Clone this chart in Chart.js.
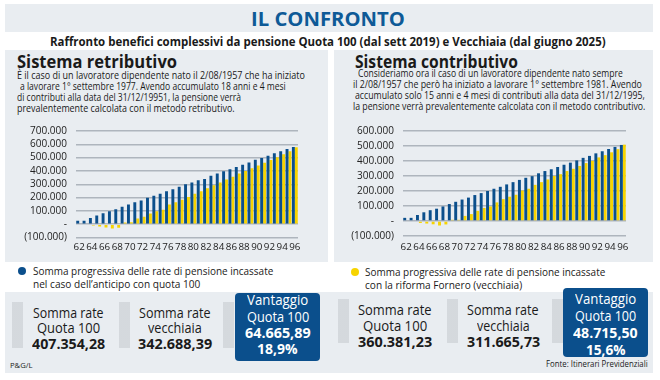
<!DOCTYPE html>
<html><head><meta charset="utf-8">
<script src="https://cdn.jsdelivr.net/npm/chart.js@4.4.0/dist/chart.umd.min.js"></script>
<style>
html,body{margin:0;padding:0;background:#fff;}
#root{position:relative;width:660px;height:380px;overflow:hidden;font-family:'Open Sans',sans-serif;color:#1a1a1a;}
.box{position:absolute;}
.grey{background:#e9edf1;}
.t{position:absolute;white-space:nowrap;line-height:1;transform-origin:0 50%;}
.b{font-weight:700;}
.w{color:#fff;}
.dots{position:absolute;background-color:#e4e7ea;background-image:radial-gradient(circle,#c3c8cd 0.6px,transparent 0.8px);background-size:2px 2px;}
.dot{position:absolute;width:8px;height:8px;border-radius:50%;}
.vbox{position:absolute;background:#0b4f8c;border-radius:4px;}
canvas{position:absolute;}
</style></head><body><div id="root">
<div class="box grey" style="left:5px;top:4px;width:648px;height:28px"></div>
<div class="box grey" style="left:5px;top:50px;width:323px;height:212px"></div>
<div class="box grey" style="left:334px;top:50px;width:319px;height:212px"></div>
<div class="box grey" style="left:5px;top:292px;width:648px;height:81px"></div>

<div class="t b" style="font-size:20px;color:#0e5a97" data-cx="328" data-y="18.5" data-w="154">IL CONFRONTO</div>
<div class="t b" style="font-size:12px" data-cx="327.5" data-y="42" data-w="556">Raffronto benefici complessivi da pensione Quota 100 (dal sett 2019) e Vecchiaia (dal giugno 2025)</div>

<div class="t b" style="font-size:18.5px" data-x="17" data-y="61" data-w="160">Sistema retributivo</div>
<div class="t b" style="font-size:18.5px" data-x="355" data-y="61" data-w="163">Sistema contributivo</div>

<div class="t" style="font-size:10.5px" data-x="17" data-y="75" data-w="288">È il caso di un lavoratore dipendente nato il 2/08/1957 che ha iniziato</div>
<div class="t" style="font-size:10.5px" data-x="20" data-y="86" data-w="266">a lavorare 1° settembre 1977. Avendo accumulato 18 anni e 4 mesi</div>
<div class="t" style="font-size:10.5px" data-x="17" data-y="97.5" data-w="224">di contributi alla data del 31/12/19951, la pensione verrà</div>
<div class="t" style="font-size:10.5px" data-x="17" data-y="108.5" data-w="218">prevalentemente calcolata con il metodo retributivo.</div>

<div class="t" style="font-size:10.5px" data-x="358" data-y="73" data-w="265">Consideriamo ora il caso di un lavoratore dipendente nato sempre</div>
<div class="t" style="font-size:10.5px" data-x="353" data-y="84" data-w="289">il 2/08/1957 che però ha iniziato a lavorare 1° settembre 1981. Avendo</div>
<div class="t" style="font-size:10.5px" data-x="355" data-y="95" data-w="290">accumulato solo 15 anni e 4 mesi di contributi alla data del 31/12/1995,</div>
<div class="t" style="font-size:10.5px" data-x="353" data-y="106" data-w="292">la pensione verrà prevalentemente calcolata con il metodo contributivo.</div>

<canvas id="c1" width="305" height="140" style="left:5px;top:116px;width:305px;height:140px"></canvas>
<canvas id="c2" width="305" height="140" style="left:335px;top:116px;width:305px;height:140px"></canvas>

<div class="dot" style="left:18px;top:267px;background:#0b4f8c"></div>
<div class="t" style="font-size:11.5px" data-x="33" data-y="271" data-w="240">Somma progressiva delle rate di pensione incassate</div>
<div class="t" style="font-size:11.5px" data-x="33" data-y="284" data-w="167">nel caso dell’anticipo con quota 100</div>
<div class="dot" style="left:351px;top:268px;background:#f7d400"></div>
<div class="t" style="font-size:11.5px" data-x="365" data-y="272" data-w="240">Somma progressiva delle rate di pensione incassate</div>
<div class="t" style="font-size:11.5px" data-x="365" data-y="285" data-w="157">con la riforma Fornero (vecchiaia)</div>

<div class="dots" style="left:12px;top:302px;width:11px;height:46px"></div>
<div class="dots" style="left:119px;top:302px;width:11px;height:46px"></div>
<div class="dots" style="left:223px;top:302px;width:11px;height:46px"></div>
<div class="dots" style="left:338px;top:299px;width:11px;height:44px"></div>
<div class="dots" style="left:447px;top:299px;width:11px;height:44px"></div>
<div class="dots" style="left:552px;top:299px;width:11px;height:44px"></div>

<div class="t" style="font-size:15px" data-cx="68" data-y="312" data-w="71">Somma rate</div>
<div class="t" style="font-size:15px" data-cx="68" data-y="327" data-w="63">Quota 100</div>
<div class="t b" style="font-size:15px" data-cx="68" data-y="343" data-w="73">407.354,28</div>
<div class="t" style="font-size:15px" data-cx="175" data-y="312" data-w="72">Somma rate</div>
<div class="t" style="font-size:15px" data-cx="175" data-y="327" data-w="54">vecchiaia</div>
<div class="t b" style="font-size:15px" data-cx="175" data-y="343" data-w="74">342.688,39</div>
<div class="vbox" style="left:235px;top:293px;width:85px;height:68px"></div>
<div class="t w" style="font-size:15px" data-cx="277.5" data-y="299" data-w="61">Vantaggio</div>
<div class="t w" style="font-size:15px" data-cx="277.5" data-y="316" data-w="62">Quota 100</div>
<div class="t w b" style="font-size:15px" data-cx="277.5" data-y="332" data-w="66">64.665,89</div>
<div class="t w b" style="font-size:15px" data-cx="277.5" data-y="348" data-w="41">18,9%</div>

<div class="t" style="font-size:15px" data-cx="395" data-y="309" data-w="74">Somma rate</div>
<div class="t" style="font-size:15px" data-cx="395" data-y="325" data-w="64">Quota 100</div>
<div class="t b" style="font-size:15px" data-cx="395" data-y="341" data-w="74">360.381,23</div>
<div class="t" style="font-size:15px" data-cx="503" data-y="309" data-w="72">Somma rate</div>
<div class="t" style="font-size:15px" data-cx="503" data-y="325" data-w="53">vecchiaia</div>
<div class="t b" style="font-size:15px" data-cx="503" data-y="341" data-w="73">311.665,73</div>
<div class="vbox" style="left:563px;top:288px;width:85px;height:69px"></div>
<div class="t w" style="font-size:15px" data-cx="605.5" data-y="298" data-w="61">Vantaggio</div>
<div class="t w" style="font-size:15px" data-cx="605.5" data-y="315" data-w="61">Quota 100</div>
<div class="t w b" style="font-size:15px" data-cx="605.5" data-y="332" data-w="65">48.715,50</div>
<div class="t w b" style="font-size:15px" data-cx="605.5" data-y="349" data-w="40">15,6%</div>

<div class="t" style="font-size:8px" data-x="10" data-y="365" data-w="23">P&amp;G/L</div>
<div class="t" style="font-size:8.5px" data-rx="648" data-y="364" data-w="102">Fonte: Itinerari Previdenziali</div>
</div>
<script>
// ---- data ----
const years = ['62','63','64','65','66','67','68','69','70','71','72','73','74','75','76','77','78','79','80','81','82','83','84','85','86','87','88','89','90','91','92','93','94','95','96'];
const quota100Retributivo = [25000,25000,46000,66000,82000,97000,113000,131000,147000,164000,178000,199000,214000,229000,247000,262000,282000,300000,314000,330000,339000,364000,381000,398000,412000,429000,446000,463000,484000,497000,514000,532000,548000,564000,579000];
const vecchiaiaRetributivo = [0,0,-10000,-18000,-25000,-33000,-27000,12000,15000,42000,55000,80000,97000,108000,147000,164000,184000,205000,228000,248000,270000,292000,314000,336000,357000,380000,400000,420000,440000,462000,482000,503000,525000,548000,578000];
const quota100Contributivo = [21000,21000,40000,58000,72000,82000,97000,113000,128000,143000,156000,173000,186000,200000,215000,228000,244000,259000,274000,288000,299000,318000,333000,345000,360000,375000,389000,404000,421000,434000,451000,465000,480000,494000,507000];
const vecchiaiaContributivo = [0,0,-13000,-17000,-22000,-30000,-23000,8000,8000,34000,46000,68000,87000,97000,124000,146000,162000,175000,203000,215000,241000,259000,277000,300000,312000,333000,348000,367000,386000,401000,424000,439000,458000,479000,509000];
const yMin = -100000;
const yMaxRetributivo = 700000;
const yMaxContributivo = 600000;
const yStep = 100000;

const BLUE = '#0b4f8c', YELLOW = '#f7d400';

function fmt(v){
  if (v === 0) return '-';
  const s = Math.abs(v).toString().replace(/\B(?=(\d{3})+(?!\d))/g, '.');
  return v < 0 ? '(' + s + ')' : s;
}

function makeChart(id, blue, yellow, max, yW, padTop, padRight, xH, xPad){
  const font = {family:'Open Sans', size:10};
  return new Chart(document.getElementById(id), {
    type:'bar',
    data:{labels:years, datasets:[
      {data:blue, backgroundColor:BLUE, categoryPercentage:0.92, barPercentage:1.0},
      {data:yellow, backgroundColor:YELLOW, categoryPercentage:0.92, barPercentage:1.0}
    ]},
    options:{
      responsive:false, animation:false, devicePixelRatio:1,
      layout:{padding:{top:padTop, right:padRight, left:0, bottom:0}},
      plugins:{legend:{display:false}, tooltip:{enabled:false}},
      scales:{
        x:{
          grid:{display:false, drawTicks:false}, border:{display:false},
          ticks:{autoSkip:false, maxRotation:0, minRotation:0, padding:xPad, font:{family:'Open Sans', size:9.8}, color:'#222',
            callback:(v,i)=> i % 2 === 0 ? years[i] : ''},
          afterFit:s=>{s.height = xH; s.paddingLeft = 0; s.paddingRight = 0;}
        },
        y:{
          min:yMin, max:max,
          ticks:{stepSize:yStep, autoSkip:false, padding:9, font:font, color:'#222', callback:v=>fmt(v)},
          grid:{color:'#aeb5bd', lineWidth:1.5, drawTicks:false}, border:{display:false},
          afterFit:s=>{s.width = yW;}
        }
      }
    }
  });
}

function fitText(){
  document.querySelectorAll('.t').forEach(el=>{
    el.style.transform = 'none';
    const w = el.offsetWidth, h = el.offsetHeight;
    const tw = +el.dataset.w;
    el.style.transform = 'scaleX(' + (tw / w) + ')';
    let left;
    if (el.dataset.cx) left = +el.dataset.cx - tw/2;
    else if (el.dataset.rx) left = +el.dataset.rx - tw;
    else left = +el.dataset.x;
    el.style.left = left + 'px';
    el.style.top = (+el.dataset.y - h/2) + 'px';
  });
}
fitText();
if (document.fonts && document.fonts.ready) document.fonts.ready.then(fitText);

makeChart('c1', quota100Retributivo, vecchiaiaRetributivo, yMaxRetributivo, 71, 2, 12, 18.5, 4);
makeChart('c2', quota100Contributivo, vecchiaiaContributivo, yMaxContributivo, 68, 3, 14, 20, 5);
</script>
</body></html>
